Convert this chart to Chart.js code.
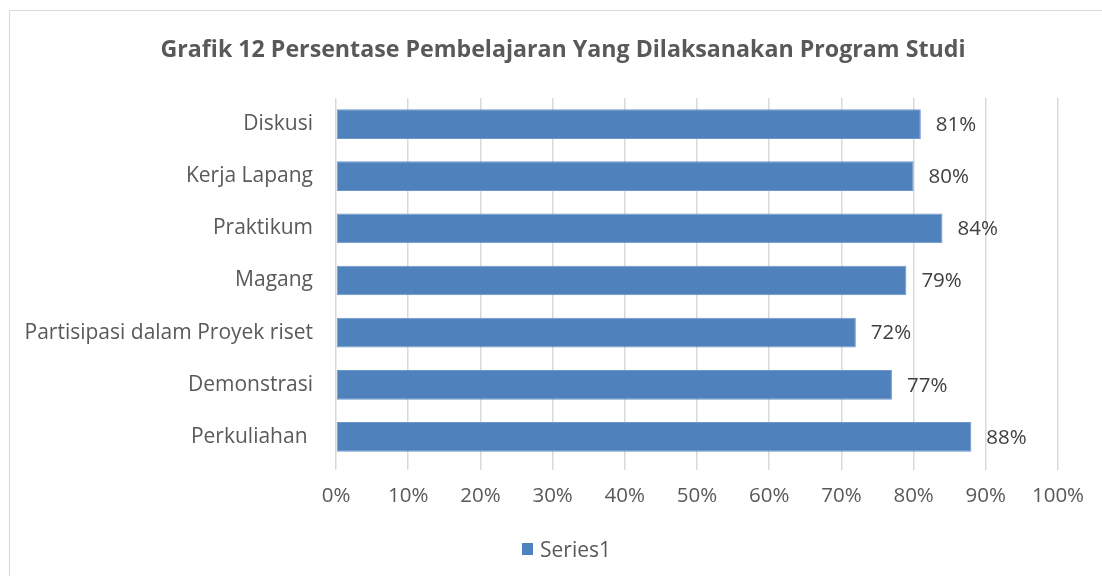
<!DOCTYPE html>
<html>
<head>
<meta charset="utf-8">
<script src="https://cdn.jsdelivr.net/npm/chart.js@4"></script>
<style>
  html, body { margin: 0; padding: 0; background: #fff; }
  body { width: 1102px; height: 576px; position: relative; overflow: hidden; font-family: "Open Sans", sans-serif; }
  #frame { position: absolute; left: 9px; top: 10px; width: 1200px; height: 700px; border: 1px solid #d9d9d9; box-sizing: border-box; }
  #chart-wrap { position: absolute; left: 0; top: 0; width: 1102px; height: 576px; }
  #chart-title { position: absolute; left: 0; width: 1126px; top: 32px; text-align: center; font-weight: bold; font-size: 23.2px; color: #595959; line-height: 32px; }
  #legend { position: absolute; left: 522px; top: 535px; font-size: 21px; color: #595959; display: flex; align-items: center; line-height: 28px; }
  #legend .box { width: 11px; height: 12px; background: #4f81bd; margin-right: 7px; }
</style>
</head>
<body>
<div id="frame"></div>
<div id="chart-wrap"><canvas id="chart" width="1102" height="576"></canvas></div>
<div id="chart-title">Grafik 12 Persentase Pembelajaran Yang Dilaksanakan Program Studi</div>
<div id="legend"><span class="box"></span><span>Series1</span></div>
<script>
const categories = [
  "Diskusi",
  "Kerja Lapang",
  "Praktikum",
  "Magang",
  "Partisipasi dalam Proyek riset",
  "Demonstrasi",
  "Perkuliahan ",
];
const series1 = [81, 80, 84, 79, 72, 77, 88];
const xTicks = [0, 10, 20, 30, 40, 50, 60, 70, 80, 90, 100];

const barColor = "#4f81bd";
const textColor = "#595959";
const fontFamily = "'Open Sans', sans-serif";

const valueLabels = {
  id: "valueLabels",
  afterDatasetsDraw(chart) {
    const ctx = chart.ctx;
    const meta = chart.getDatasetMeta(0);
    ctx.save();
    ctx.font = `20.5px ${fontFamily}`;
    ctx.fillStyle = "#404040";
    ctx.textAlign = "left";
    ctx.textBaseline = "middle";
    meta.data.forEach((bar, i) => {
      ctx.fillText(`${series1[i]}%`, bar.x + 15, bar.y + 1);
    });
    ctx.restore();
  },
};

new Chart(document.getElementById("chart"), {
  type: "bar",
  data: {
    labels: categories,
    datasets: [{
      label: "Series1",
      data: series1,
      backgroundColor: barColor,
      borderColor: "#6d97cc",
      borderWidth: 1,
      borderSkipped: false,
      barPercentage: 0.57,
      categoryPercentage: 1,
    }],
  },
  options: {
    indexAxis: "y",
    responsive: false,
    animation: false,
    layout: { padding: { top: 98, right: 44, bottom: 0, left: 0 } },
    plugins: {
      legend: { display: false },
      title: { display: false },
      tooltip: { enabled: false },
    },
    scales: {
      x: {
        min: 0,
        max: 100,
        afterBuildTicks(scale) {
          scale.ticks = xTicks.map((v) => ({ value: v }));
        },
        afterFit(scale) { scale.height = 113; },
        grid: { color: "#d9d9d9", lineWidth: 1.5, tickLength: 7, drawTicks: true },
        border: { display: false },
        ticks: {
          color: textColor,
          font: { family: fontFamily, size: 20.5 },
          padding: 14,
          callback: (v) => `${v}%`,
        },
      },
      y: {
        afterFit(scale) { scale.width = 336; },
        grid: { display: false },
        border: { display: false },
        ticks: {
          color: textColor,
          font: { family: fontFamily, size: 21 },
          padding: 15,
        },
      },
    },
  },
  plugins: [valueLabels],
});
</script>
</body>
</html>
